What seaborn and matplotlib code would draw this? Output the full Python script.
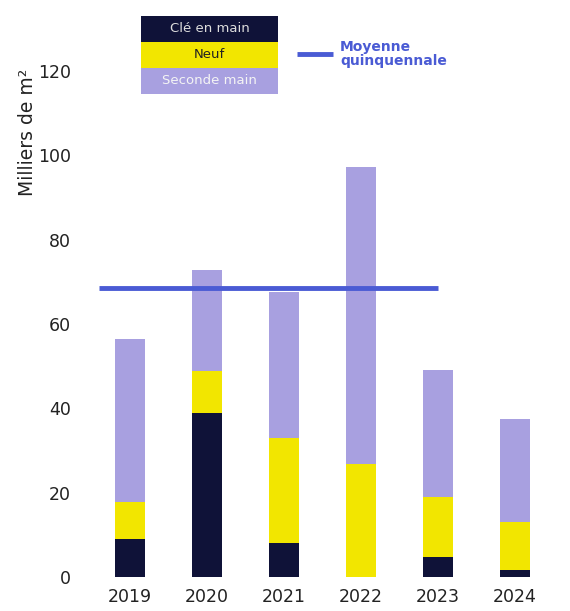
import pandas as pd
import seaborn as sns
import matplotlib.pyplot as plt
from matplotlib.patches import Rectangle

# data (milliers de m2)
years = ["2019", "2020", "2021", "2022", "2023", "2024"]
cle_en_main = [9, 39, 8, 0, 4.7, 1.7]
neuf = [8.7, 9.8, 24.9, 26.7, 14.2, 11.3]
seconde_main = [38.7, 24, 34.7, 70.5, 30.2, 24.5]
moyenne = 68.6
moyenne_years = ["2019", "2023"]

col_cle = "#0f1238"
col_neuf = "#f2e600"
col_sec = "#a8a0e0"
col_moy = "#4a5bd4"

sns.set_theme(style="white")
plt.rcParams["font.family"] = ["DejaVu Sans"]

df = pd.DataFrame({"Année": years, "cle": cle_en_main, "neuf": neuf, "sec": seconde_main})
df["cle_neuf"] = df["cle"] + df["neuf"]
df["total"] = df["cle_neuf"] + df["sec"]

fig = plt.figure(figsize=(5.7, 6.11), dpi=100)
ax = fig.add_axes([0.1605, 0.0556, 0.8105, 0.8975])

# stacked bars: draw totals first then overlay lower segments
for col, c in [("total", col_sec), ("cle_neuf", col_neuf), ("cle", col_cle)]:
    sns.barplot(data=df, x="Année", y=col, color=c, width=0.4, saturation=1,
                linewidth=0, ax=ax)

# moyenne quinquennale
x0 = years.index(moyenne_years[0]) - 0.4
x1 = years.index(moyenne_years[1])
ax.plot([x0, x1], [moyenne, moyenne], color=col_moy, lw=3.5, solid_capstyle="butt")

ax.set_xlim(-0.5, 5.5)
ax.set_ylim(0, 130)
ax.set_yticks(range(0, 121, 20))
ax.set_xlabel("")
ax.set_ylabel("")
sns.despine(ax=ax, left=True, bottom=True)
ax.tick_params(axis="both", length=0, labelsize=12.5, colors="#222222")
ax.tick_params(axis="y", pad=15)
ax.tick_params(axis="x", pad=8)

fig.text(0.049, 0.783, "Milliers de m²", rotation=90, ha="center", va="center",
         fontsize=13.5, color="#222222")

# legend table
lx, lw_, lh = 141 / 570, 137 / 570, 26 / 611
rows = [("Clé en main", col_cle, "#dddddd"),
        ("Neuf", col_neuf, "#222222"),
        ("Seconde main", col_sec, "#f4f4f4")]
top = 1 - 16 / 611
for i, (lab, fc, tc) in enumerate(rows):
    yb = top - (i + 1) * lh
    fig.patches.append(Rectangle((lx, yb), lw_, lh, transform=fig.transFigure,
                                 facecolor=fc, edgecolor="none"))
    fig.text(lx + lw_ / 2, yb + lh / 2, lab, ha="center", va="center",
             fontsize=9.5, color=tc)

fig.lines.append(plt.Line2D([297 / 570, 333 / 570], [1 - 54 / 611] * 2,
                            transform=fig.transFigure, color=col_moy, lw=3.5,
                            solid_capstyle="butt"))
fig.text(340 / 570, 1 - 54 / 611, "Moyenne\nquinquennale", ha="left", va="center",
         fontsize=10, fontweight="bold", color=col_moy, linespacing=1.0)

fig.savefig("out.png", dpi=100)
